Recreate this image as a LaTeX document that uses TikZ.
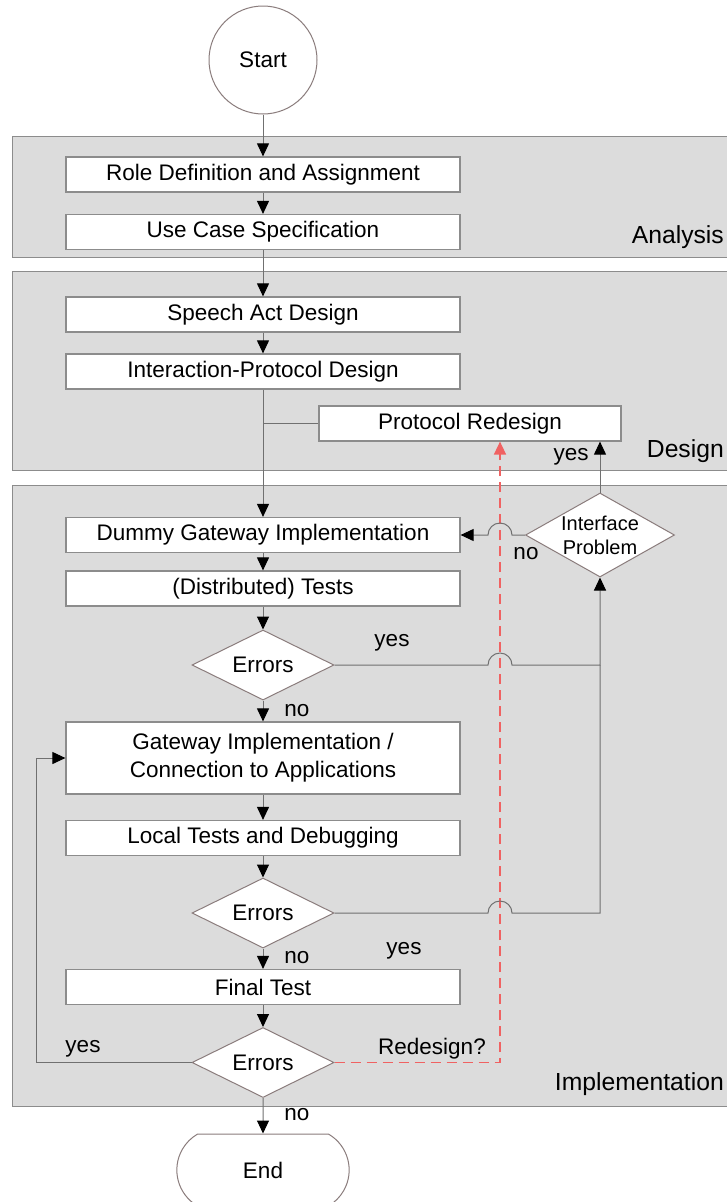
\documentclass[tikz,border=0pt]{standalone}
\usepackage{fontspec}
\setmainfont{Liberation Sans}
\usepackage{xcolor}
\usepackage{tikz}
\usetikzlibrary{positioning, arrows.meta, shapes}

\definecolor{panelgray}{HTML}{DCDCDC}
\definecolor{framegray}{HTML}{8C8C8C}
\definecolor{linegray}{HTML}{707070}
\definecolor{shapeedge}{HTML}{8A7C7C}
\definecolor{redesignred}{HTML}{F06262}

\begin{document}
\begin{tikzpicture}[x=1pt, y=-1pt,
    font=\fontsize{22.5}{28}\selectfont,
    panel/.style={fill=panelgray, draw=framegray, line width=1pt},
    phase/.style={anchor=east, inner sep=0pt, font=\fontsize{24.7}{28}\selectfont},
    box/.style={draw=framegray, fill=white, line width=1.2pt, minimum width=394pt, minimum height=35pt, inner sep=0pt, align=center},
    decision/.style={diamond, draw=shapeedge, fill=white, line width=1pt, minimum width=142pt, minimum height=70pt, inner sep=0pt, aspect=2},
    flow/.style={draw=linegray, line width=1pt},
    arr/.style={flow, -{Triangle[length=13pt, width=12pt, color=black]}},
    redesignline/.style={draw=redesignred, line width=1.5pt, dash pattern=on 10pt off 6pt, -{Triangle[length=13pt, width=12pt]}},
    lbl/.style={inner sep=0pt}]
        \useasboundingbox (0,0) rectangle (726,1202);

        % Phases
        \draw[panel] (12,136) rectangle (740,257);
        \draw[panel] (12,271) rectangle (740,470);
        \draw[panel] (12,485) rectangle (740,1106);
        \node[phase] (analysis) at (724,237) {Analysis};
        \node[phase] (design) at (724,451) {Design};
        \node[phase] (implementation) at (724,1084) {Implementation};

        % Steps
        \node[circle, draw=shapeedge, fill=white, line width=1pt, minimum size=108pt] (start) at (263,60) {Start};
        \node[box] (role) at (263,174.5) {Role Definition and Assignment};
        \node[box] (usecase) at (263,232) {Use Case Specification};
        \node[box] (speech) at (263,314.5) {Speech Act Design};
        \node[box] (interaction) at (263,371.5) {Interaction-Protocol Design};
        \node[box, minimum width=302pt] (redesign) at (470,423.5) {Protocol Redesign};
        \node[box] (dummy) at (263,535) {Dummy Gateway Implementation};
        \node[decision, minimum width=149pt, minimum height=84pt, aspect=1.77, align=center,
            font=\fontsize{20}{24}\selectfont] (iface) at (600,535) {Interface\\Problem};
        \node[box] (tests) at (263,588.5) {(Distributed) Tests};
        \node[decision] (err1) at (263,665) {Errors};
        \node[box, minimum height=72pt] (gateway) at (263,758) {Gateway Implementation /\\Connection to Applications};
        \node[box] (local) at (263,838) {Local Tests and Debugging};
        \node[decision] (err2) at (263,913) {Errors};
        \node[box] (final) at (263,987) {Final Test};
        \node[decision] (err3) at (263,1062.5) {Errors};
        \node[rounded rectangle, rounded rectangle arc length=120, draw=shapeedge, fill=white, line width=1pt,
            minimum width=179pt, minimum height=72pt] (end) at (263,1170) {End};

        \coordinate (jump) at (500,0);
        \coordinate (loop) at (36,0);

        % Redesign path
        \draw[redesignline] (err3.east) -| (jump |- redesign.south);

        % Main flow
        \draw[arr] (start) -- (role);
        \draw[arr] (role) -- (usecase);
        \draw[arr] (usecase) -- (speech);
        \draw[arr] (speech) -- (interaction);
        \draw[arr] (interaction) -- (dummy);
        \draw[flow] (interaction.south |- redesign.west) -- (redesign.west);
        \draw[arr] (dummy) -- (tests);
        \draw[arr] (tests) -- (err1);
        \draw[arr] (err1) -- (gateway);
        \draw[arr] (gateway) -- (local);
        \draw[arr] (local) -- (err2);
        \draw[arr] (err2) -- (final);
        \draw[arr] (final) -- (err3);
        \draw[arr] (err3) -- (end);

        % Loops back, jumping over the redesign line
        \draw[arr] (err1.east) -- ([xshift=-12pt]jump |- err1.east) arc[start angle=180, end angle=0, radius=12pt] -| (iface.south);
        \draw[flow] (err2.east) -- ([xshift=-12pt]jump |- err2.east) arc[start angle=180, end angle=0, radius=12pt] -| (iface.south |- err1.east);
        \draw[arr] (iface.west) -- ([xshift=12pt]jump |- iface.west) arc[start angle=0, end angle=180, radius=12pt] -- (dummy.east);
        \draw[arr] (iface.north) -- (iface.north |- redesign.south);
        \draw[arr] (err3.west) -| (loop |- gateway.west) -- (gateway.west);

        % Branch labels
        \node[lbl] (yes1) at (392,643) {yes};
        \node[lbl] (no1) at (297,711) {no};
        \node[lbl] (yes2) at (404,951) {yes};
        \node[lbl] (no2) at (297,958) {no};
        \node[lbl] (yes3) at (83,1049) {yes};
        \node[lbl] (redesignq) at (432,1049) {Redesign?};
        \node[lbl] (no3) at (297,1115) {no};
        \node[lbl] (yes4) at (571,457) {yes};
        \node[lbl] (no4) at (526,554) {no};
    \end{tikzpicture}
\end{document}
